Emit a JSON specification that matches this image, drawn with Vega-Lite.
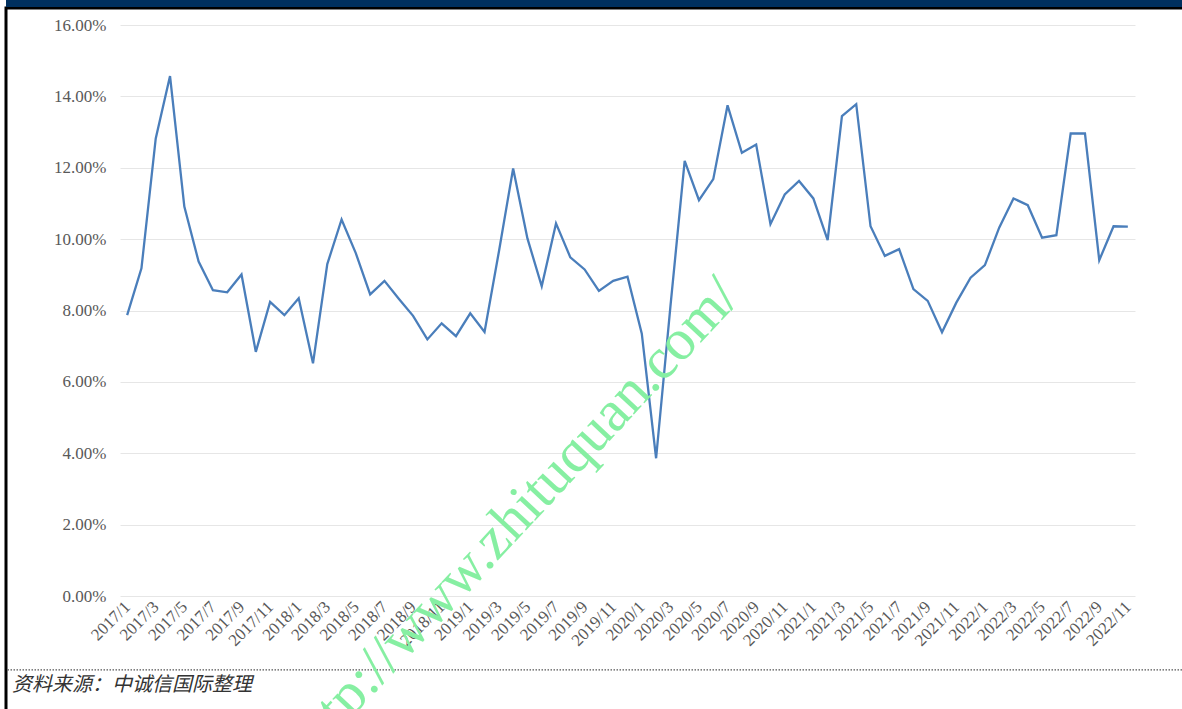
{
  "$schema": "https://vega.github.io/schema/vega-lite/v6.json",
  "width": 1176,
  "height": 701,
  "autosize": {"type": "none"},
  "padding": {"left": 6, "top": 8, "right": 0, "bottom": 0},
  "background": "white",
  "view": {"fill": "white", "stroke": "black", "strokeWidth": 3, "strokeDash": [1176, 1877, 701]},
  "title": {
    "text": "资料来源：中诚信国际整理",
    "orient": "top",
    "anchor": "start",
    "frame": "group",
    "offset": -695,
    "baseline": "top",
    "dx": 6,
    "font": "Noto Sans CJK SC",
    "fontSize": 20,
    "fontStyle": "italic",
    "fontWeight": "normal",
    "color": "#333333"
  },
  "data": {"values": [
    {"m": "2017/1", "v": 0.0787}, {"m": "2017/2", "v": 0.0918}, {"m": "2017/3", "v": 0.1282}, {"m": "2017/4", "v": 0.1457},
    {"m": "2017/5", "v": 0.1091}, {"m": "2017/6", "v": 0.0937}, {"m": "2017/7", "v": 0.0857}, {"m": "2017/8", "v": 0.0851},
    {"m": "2017/9", "v": 0.0901}, {"m": "2017/10", "v": 0.0684}, {"m": "2017/11", "v": 0.0824}, {"m": "2017/12", "v": 0.0787},
    {"m": "2018/1", "v": 0.0834}, {"m": "2018/2", "v": 0.0652}, {"m": "2018/3", "v": 0.0930}, {"m": "2018/4", "v": 0.1055},
    {"m": "2018/5", "v": 0.0960}, {"m": "2018/6", "v": 0.0845}, {"m": "2018/7", "v": 0.0883}, {"m": "2018/8", "v": 0.0833},
    {"m": "2018/9", "v": 0.0785}, {"m": "2018/10", "v": 0.0719}, {"m": "2018/11", "v": 0.0764}, {"m": "2018/12", "v": 0.0728},
    {"m": "2019/1", "v": 0.0792}, {"m": "2019/2", "v": 0.0740}, {"m": "2019/3", "v": 0.0964}, {"m": "2019/4", "v": 0.1198},
    {"m": "2019/5", "v": 0.1002}, {"m": "2019/6", "v": 0.0868}, {"m": "2019/7", "v": 0.1044}, {"m": "2019/8", "v": 0.0949},
    {"m": "2019/9", "v": 0.0915}, {"m": "2019/10", "v": 0.0855}, {"m": "2019/11", "v": 0.0883}, {"m": "2019/12", "v": 0.0895},
    {"m": "2020/1", "v": 0.0735}, {"m": "2020/2", "v": 0.0386}, {"m": "2020/3", "v": 0.0810}, {"m": "2020/4", "v": 0.1219},
    {"m": "2020/5", "v": 0.1109}, {"m": "2020/6", "v": 0.1168}, {"m": "2020/7", "v": 0.1375}, {"m": "2020/8", "v": 0.1242},
    {"m": "2020/9", "v": 0.1265}, {"m": "2020/10", "v": 0.1042}, {"m": "2020/11", "v": 0.1125}, {"m": "2020/12", "v": 0.1163},
    {"m": "2021/1", "v": 0.1114}, {"m": "2021/2", "v": 0.0997}, {"m": "2021/3", "v": 0.1345}, {"m": "2021/4", "v": 0.1378},
    {"m": "2021/5", "v": 0.1036}, {"m": "2021/6", "v": 0.0953}, {"m": "2021/7", "v": 0.0972}, {"m": "2021/8", "v": 0.0860},
    {"m": "2021/9", "v": 0.0827}, {"m": "2021/10", "v": 0.0739}, {"m": "2021/11", "v": 0.0822}, {"m": "2021/12", "v": 0.0892},
    {"m": "2022/1", "v": 0.0927}, {"m": "2022/2", "v": 0.1032}, {"m": "2022/3", "v": 0.1114}, {"m": "2022/4", "v": 0.1095},
    {"m": "2022/5", "v": 0.1004}, {"m": "2022/6", "v": 0.1011}, {"m": "2022/7", "v": 0.1296}, {"m": "2022/8", "v": 0.1296},
    {"m": "2022/9", "v": 0.0941}, {"m": "2022/10", "v": 0.1036}, {"m": "2022/11", "v": 0.1035}
  ]},
  "encoding": {
    "x": {
      "field": "m",
      "type": "ordinal",
      "sort": null,
      "scale": {
        "type": "point",
        "range": [114, 1129],
        "padding": 0.5,
        "domain": ["2017/1","2017/2","2017/3","2017/4","2017/5","2017/6","2017/7","2017/8","2017/9","2017/10","2017/11","2017/12",
                   "2018/1","2018/2","2018/3","2018/4","2018/5","2018/6","2018/7","2018/8","2018/9","2018/10","2018/11","2018/12",
                   "2019/1","2019/2","2019/3","2019/4","2019/5","2019/6","2019/7","2019/8","2019/9","2019/10","2019/11","2019/12",
                   "2020/1","2020/2","2020/3","2020/4","2020/5","2020/6","2020/7","2020/8","2020/9","2020/10","2020/11","2020/12",
                   "2021/1","2021/2","2021/3","2021/4","2021/5","2021/6","2021/7","2021/8","2021/9","2021/10","2021/11","2021/12",
                   "2022/1","2022/2","2022/3","2022/4","2022/5","2022/6","2022/7","2022/8","2022/9","2022/10","2022/11"]
      },
      "axis": {
        "title": null,
        "values": ["2017/1","2017/3","2017/5","2017/7","2017/9","2017/11","2018/1","2018/3","2018/5","2018/7","2018/9","2018/11",
                   "2019/1","2019/3","2019/5","2019/7","2019/9","2019/11","2020/1","2020/3","2020/5","2020/7","2020/9","2020/11",
                   "2021/1","2021/3","2021/5","2021/7","2021/9","2021/11","2022/1","2022/3","2022/5","2022/7","2022/9","2022/11"],
        "labelAngle": -45,
        "labelAlign": "right",
        "labelBaseline": "middle",
        "labelFont": "Liberation Serif",
        "labelFontSize": 17,
        "labelColor": "#595959",
        "labelPadding": 8,
        "labelOverlap": false,
        "ticks": false,
        "domain": false,
        "grid": false,
        "offset": -113
      }
    },
    "y": {
      "field": "v",
      "type": "quantitative",
      "scale": {"domain": [0, 0.16], "range": [588, 17], "nice": false},
      "axis": {
        "title": null,
        "values": [0, 0.02, 0.04, 0.06, 0.08, 0.1, 0.12, 0.14, 0.16],
        "format": ".2%",
        "labelFont": "Liberation Serif",
        "labelFontSize": 17,
        "labelColor": "#595959",
        "labelPadding": 14,
        "ticks": false,
        "domain": false,
        "grid": true,
        "gridColor": "#E6E6E6",
        "gridWidth": 1,
        "offset": -114
      }
    }
  },
  "layer": [
    {
      "data": {"values": [{"d": 0.16602}]},
      "mark": {"type": "rule", "color": "#00305F", "strokeWidth": 7},
      "encoding": {"x": null, "y": {"field": "d", "type": "quantitative"}}
    },
    {
      "data": {"values": [{"d": -0.0207}]},
      "mark": {"type": "rule", "color": "#555555", "strokeWidth": 1.3, "strokeDash": [1.5, 1.5]},
      "encoding": {"x": null, "y": {"field": "d", "type": "quantitative"}}
    },
    {
      "mark": {"type": "line", "color": "#4A7EBB", "strokeWidth": 2.3}
    },
    {
      "data": {"values": [{"m": "2019/4", "v": 0.0215, "t": "http://www.zhituquan.com/"}]},
      "mark": {"type": "text", "font": "Liberation Serif", "fontSize": 58, "color": "#86EFA2", "angle": -47, "align": "center", "baseline": "middle"},
      "encoding": {"text": {"field": "t"}}
    }
  ]
}
